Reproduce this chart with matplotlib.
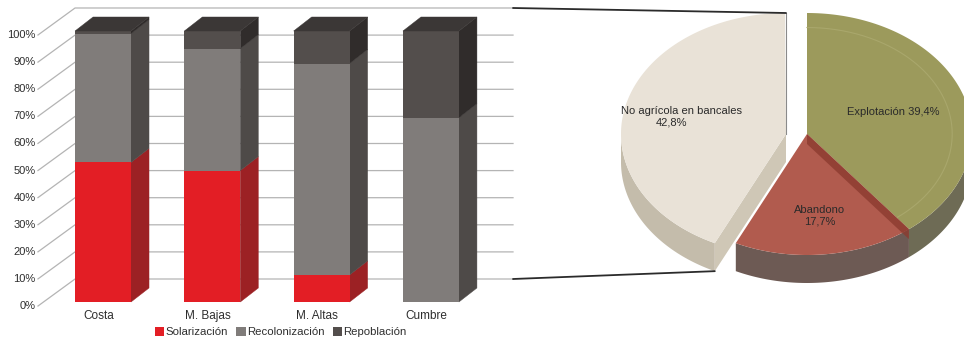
import numpy as np
import matplotlib
matplotlib.use("Agg")
import matplotlib.pyplot as plt
from matplotlib.patches import Polygon, Patch, ConnectionPatch

plt.rcParams['font.family'] = ['Liberation Sans', 'DejaVu Sans']

# datos de las barras (% por zona)
zonas = ["Costa", "M. Bajas", "M. Altas", "Cumbre"]
solarizacion = [51.5, 48.5, 10.0, 0.0]
recolonizacion = [47.5, 45.0, 78.0, 68.0]
repoblacion = [1.0, 6.5, 12.0, 32.0]
series = ["Solarización", "Recolonización", "Repoblación"]
ticks = list(range(0, 101, 10))

# datos de la tarta
usos = ["Explotación", "Abandono", "No agrícola en bancales"]
usos_pct = [39.4, 17.7, 42.8]

txt = '#2e2e2e'
front = ['#e31e25', '#807c7a', '#534e4c']
side = ['#9c2124', '#4e4a48', '#302c2b']
top_col = '#3b3736'

fig = plt.figure(figsize=(9.64, 3.38), dpi=100)

# ---- barras 3D ----
ax = fig.add_axes([0, 0, 520 / 964, 1])
ax.set_xlim(-0.9424, 3.815)
ax.set_ylim(-13.28, 111.44)
ax.axis('off')

fx, fy = -0.595, -1.48       # plano frontal (etiquetas)
wx0, wx1, wy = -0.256, 3.751, 8.49   # pared del fondo
for t in ticks:
    ax.plot([fx, wx0, wx1], [t + fy, t + wy, t + wy], color='#b4b4b4', lw=0.9, zorder=1)
    ax.text(fx - 0.02, t + fy, f"{t}%", ha='right', va='center', fontsize=8, color=txt)

x = np.arange(len(zonas))
w = 0.512
ddx, ddy = 0.165, 5.17
bottom = np.zeros(len(zonas))
for vals, fc, sc in zip([solarizacion, recolonizacion, repoblacion], front, side):
    vals = np.array(vals)
    ax.bar(x, vals, w, bottom=bottom, color=fc, zorder=3)
    for xi, b, v in zip(x, bottom, vals):
        if v <= 0:
            continue
        xr = xi + w / 2
        ax.add_patch(Polygon([(xr, b), (xr + ddx, b + ddy), (xr + ddx, b + v + ddy), (xr, b + v)],
                             closed=True, fc=sc, ec=sc, lw=0.3, zorder=2))
    bottom += vals

for xi, tot in zip(x, bottom):
    xl, xr = xi - w / 2, xi + w / 2
    ax.add_patch(Polygon([(xl, tot), (xl + ddx, tot + ddy), (xr + ddx, tot + ddy), (xr, tot)],
                         closed=True, fc=top_col, ec=top_col, lw=0.3, zorder=3))

for xi, name in zip(x, zonas):
    ax.text(xi - 0.04, -5.2, name, ha='center', va='center', fontsize=8.5, color=txt)

handles = [Patch(fc=c, ec='none') for c in front]
ax.legend(handles, series, loc='center', bbox_to_anchor=(0.54, 0.018), ncol=3, frameon=False,
          fontsize=8.2, handlelength=0.8, handleheight=0.9, handletextpad=0.1, columnspacing=0.8,
          borderpad=0, labelcolor=txt)

# ---- tarta 3D ----
axp = fig.add_axes([520 / 964, 0, 444 / 964, 1])
axp.set_xlim(520, 964)
axp.set_ylim(338, 0)
axp.axis('off')

cx, cy, rx, ry, depth = 807, 134, 165, 121, 28
explode = [(0, 0), (0, 0), (-21, 0)]
top_cols = ['#9c9a5c', '#b15b4e', '#e9e2d7']
side_cols = ['#6e6b55', '#6d5a54', '#c4bcab']
lab_r = [0.55, 0.68, 0.65]


def pt(t, ox, oy, r=1.0, dz=0.0):
    return (cx + ox + r * rx * np.cos(t), cy + oy - r * ry * np.sin(t) + dz)


cum = np.concatenate([[0], np.cumsum(usos_pct)])
angles = [(np.radians(90 - cum[i] * 3.6), np.radians(90 - cum[i + 1] * 3.6)) for i in range(len(usos))]

# caras laterales
for (t1, t2), (ox, oy), sc in zip(angles, explode, side_cols):
    ts = np.linspace(t1, t2, 400)
    ts = ts[np.sin(ts) <= 1e-9]
    if len(ts) < 2:
        continue
    upper = [pt(t, ox, oy) for t in ts]
    lower = [pt(t, ox, oy, dz=depth) for t in ts[::-1]]
    axp.add_patch(Polygon(upper + lower, closed=True, fc=sc, ec='none', zorder=1))

# pared del corte de "No agrícola"
t1, t2 = angles[2]
ox, oy = explode[2]
c0 = (cx + ox, cy + oy)
p0 = pt(t1, ox, oy)
axp.add_patch(Polygon([c0, p0, (p0[0], p0[1] + depth), (c0[0], c0[1] + depth)],
                      closed=True, fc='#cfc7b6', ec='none', zorder=1))

# caras superiores
for (t1, t2), (ox, oy), tc in zip(angles, explode, top_cols):
    ts = np.linspace(t1, t2, 300)
    poly = [(cx + ox, cy + oy)] + [pt(t, ox, oy) for t in ts]
    axp.add_patch(Polygon(poly, closed=True, fc=tc, ec='none', zorder=2))

# brillo en Explotación
t1, t2 = angles[0]
ts = np.linspace(t1, t2, 200)
arc = np.array([pt(t, 0, 0, r=0.88) for t in ts])
axp.plot(arc[:, 0], arc[:, 1], color='#a9a76c', lw=0.8, zorder=3)

# franja oscura entre Explotación y Abandono
pb = pt(angles[0][1], 0, 0)
axp.add_patch(Polygon([(cx, cy), pb, (pb[0], pb[1] + 10), (cx, cy + 10)],
                      closed=True, fc='#8c3b2f', ec='none', alpha=0.8, zorder=3))

# borde recto de "No agrícola"
ptop = pt(np.radians(90), *explode[2])
axp.plot([c0[0], ptop[0]], [c0[1], ptop[1]], color='#8a8a8a', lw=0.8, zorder=3)

# etiquetas
for (t1, t2), (ox, oy), name, v, r in zip(angles, explode, usos, usos_pct, lab_r):
    tm = (t1 + t2) / 2
    lx, ly = pt(tm, ox, oy, r=r)
    val = f"{v:.1f}%".replace('.', ',')
    if name == "Explotación":
        axp.text(lx, ly, f"{name} {val}", ha='center', va='center', fontsize=8,
                 color='#2a2a2a', zorder=4)
    else:
        axp.text(lx, ly - 5.5, name, ha='center', va='center', fontsize=8, color='#2a2a2a', zorder=4)
        dx = -10 if name.startswith("No") else 0
        axp.text(lx + dx, ly + 5.5, val, ha='center', va='center', fontsize=8,
                 color='#2a2a2a', zorder=4)

# líneas de conexión entre las dos gráficas
pcorner = pt(angles[2][0], *explode[2], dz=depth)
for ya, xyb in [(100 + wy, ptop), (0 + wy, pcorner)]:
    con = ConnectionPatch(xyA=(wx1, ya), coordsA=ax.transData, xyB=xyb, coordsB=axp.transData,
                          color='#2b2b2b', lw=1.3)
    fig.add_artist(con)

fig.savefig("out.png", dpi=100)
